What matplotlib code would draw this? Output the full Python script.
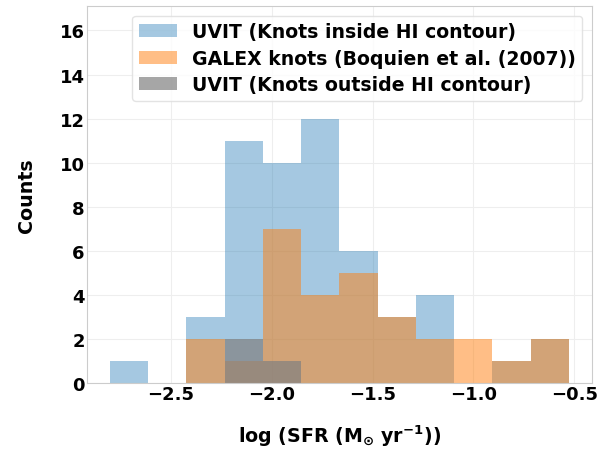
import matplotlib
matplotlib.use('Agg')
import numpy as np
import matplotlib.pyplot as plt

# bin edges shared by all three histograms (12 bins)
bin_lo, bin_hi, n_bins = -2.803, -0.527, 12

# counts per bin
uvit_in = [1, 0, 3, 11, 10, 12, 6, 3, 4, 0, 1, 2]
galex = [0, 0, 2, 1, 7, 4, 5, 3, 2, 2, 1, 2]
uvit_out = [0, 0, 0, 2, 1, 0, 0, 0, 0, 0, 0, 0]

labels = ['UVIT (Knots inside HI contour)',
          'GALEX knots (Boquien et al. (2007))',
          'UVIT (Knots outside HI contour)']

edges = np.linspace(bin_lo, bin_hi, n_bins + 1)
centers = 0.5 * (edges[:-1] + edges[1:])

plt.rcParams['font.family'] = 'DejaVu Sans'
plt.rcParams['font.weight'] = 'bold'

fig = plt.figure(figsize=(6.12, 4.52), dpi=100)
ax = fig.add_axes([0.142, 0.150, 0.825, 0.834])

ax.hist(centers, bins=edges, weights=uvit_in, color='tab:blue', alpha=0.4, label=labels[0])
ax.hist(centers, bins=edges, weights=galex, color='tab:orange', alpha=0.5, label=labels[1])
ax.hist(centers, bins=edges, weights=uvit_out, color='gray', alpha=0.7, label=labels[2])

ax.set_ylim(0, 17.1)
ax.set_xticks([-2.5, -2.0, -1.5, -1.0, -0.5])
ax.set_yticks(range(0, 17, 2))
ax.tick_params(length=0, labelsize=13, pad=1.5)
for lab in ax.get_xticklabels() + ax.get_yticklabels():
    lab.set_fontweight('bold')

ax.grid(True, color='#eeeeee', linewidth=0.8)
ax.set_axisbelow(True)
for sp in ax.spines.values():
    sp.set_color('#cccccc')

ax.set_xlabel(r'log (SFR (M$_\mathbf{\odot}$ yr$^\mathbf{-1}$))', fontsize=13.7, fontweight='bold', labelpad=14)
ax.set_ylabel('Counts', fontsize=13.7, fontweight='bold', labelpad=17)

leg = ax.legend(loc='upper right', prop={'weight': 'bold', 'size': 13.6},
                frameon=True, handlelength=2.0, labelspacing=0.4, borderpad=0.35)
leg.get_frame().set_edgecolor('#dddddd')

fig.savefig('out.png', dpi=100)
